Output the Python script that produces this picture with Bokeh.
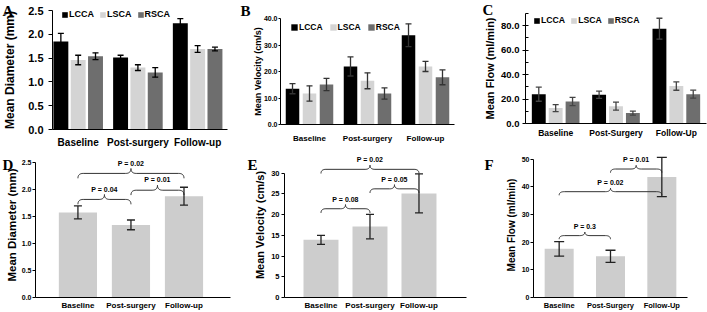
import numpy as np
from bokeh.plotting import figure
from bokeh.models import (ColumnDataSource, Range1d, FixedTicker, SingleIntervalTicker,
                          Whisker, TeeHead, Legend, LegendItem, Title, PrintfTickFormatter)
from bokeh.layouts import row, column
from bokeh.embed import file_html
from bokeh.resources import INLINE
from bokeh.core.properties import value

# ---------------- data ----------------
series = ["LCCA", "LSCA", "RSCA"]
groups_ab = ["Baseline", "Post-surgery", "Follow-up"]
groups_cf = ["Baseline", "Post-Surgery", "Follow-Up"]

# A: mean diameter (mm) per artery
diam_lcca = [1.85, 1.51, 2.23]
diam_lcca_err = [0.17, 0.05, 0.10]
diam_lsca = [1.46, 1.30, 1.69]
diam_lsca_err = [0.10, 0.06, 0.07]
diam_rsca = [1.54, 1.20, 1.69]
diam_rsca_err = [0.07, 0.10, 0.04]

# B: mean velocity (cm/s) per artery
vel_lcca = [13.5, 21.9, 33.7]
vel_lcca_err = [1.9, 3.6, 4.3]
vel_lsca = [11.7, 16.5, 21.9]
vel_lsca_err = [2.9, 3.0, 1.9]
vel_rsca = [15.1, 11.7, 17.8]
vel_rsca_err = [2.3, 2.1, 2.8]

# C: mean flow (ml/min) per artery
flow_lcca = [24.0, 23.5, 77.6]
flow_lcca_err = [5.8, 3.0, 8.5]
flow_lsca = [12.6, 14.2, 30.6]
flow_lsca_err = [2.9, 3.3, 3.4]
flow_rsca = [18.0, 8.5, 24.0]
flow_rsca_err = [3.3, 1.7, 3.3]

# D-F: pooled means
diam_all = [1.57, 1.34, 1.87]
diam_all_err = [0.12, 0.09, 0.165]
vel_all = [13.9, 17.1, 25.1]
vel_all_err = [1.1, 2.95, 4.7]
flow_all = [17.6, 14.9, 43.6]
flow_all_err = [2.65, 2.2, 7.1]

# comparisons (pairs of group indices) and p-values
pairs_d = [(0, 1), (1, 2), (0, 2)]
pvals_d = ["P = 0.04", "P = 0.01", "P = 0.02"]
pairs_e = [(0, 1), (1, 2), (0, 2)]
pvals_e = ["P = 0.08", "P = 0.05", "P = 0.02"]
pairs_f = [(0, 1), (0, 2), (1, 2)]
pvals_f = ["P = 0.3", "P = 0.02", "P = 0.01"]

# ---------------- style ----------------
SANS = "Liberation Sans"
SERIF = "Liberation Serif"
COLORS = ["#000000", "#d4d4d4", "#6e6e6e"]
POOL_COLOR = "#cdcdcd"


def make_fig(w, h, left, right, top, bottom, xr, yr):
    p = figure(width=w, height=h, x_range=Range1d(*xr), y_range=Range1d(*yr),
               output_backend="svg", toolbar_location=None,
               min_border_left=left, min_border_right=right,
               min_border_top=top, min_border_bottom=bottom)
    p.grid.visible = False
    p.outline_line_color = None
    p.border_fill_color = "white"
    p.background_fill_color = "white"
    return p


def style_axes(p, groups, ytick, yfmt, ylabel, ytick_size, ylab_size, xlab_size,
               ylab_standoff, ytick_standoff, ytick_out, xlab_standoff, bounds=None,
               minor=0, minor_in=0):
    xa = p.xaxis[0]
    xa.ticker = FixedTicker(ticks=list(range(len(groups))))
    xa.major_label_overrides = {i: g for i, g in enumerate(groups)}
    xa.major_tick_line_color = None
    xa.minor_tick_line_color = None
    xa.major_tick_out = 0
    xa.major_tick_in = 0
    xa.major_label_standoff = xlab_standoff
    xa.major_label_text_font = SANS
    xa.major_label_text_font_style = "bold"
    xa.major_label_text_font_size = xlab_size
    xa.major_label_text_color = "black"
    xa.axis_line_color = "black"
    xa.axis_line_width = 1

    ya = p.yaxis[0]
    ya.ticker = SingleIntervalTicker(interval=ytick, num_minor_ticks=minor)
    ya.formatter = PrintfTickFormatter(format=yfmt)
    ya.axis_label = ylabel
    ya.axis_label_text_font = SANS
    ya.axis_label_text_font_style = "bold"
    ya.axis_label_text_font_size = ylab_size
    ya.axis_label_text_color = "black"
    ya.axis_label_standoff = ylab_standoff
    ya.major_label_text_font = SANS
    ya.major_label_text_font_style = "bold"
    ya.major_label_text_font_size = ytick_size
    ya.major_label_text_color = "black"
    ya.major_label_standoff = ytick_standoff
    ya.major_tick_out = ytick_out
    ya.major_tick_in = 0
    ya.major_tick_line_color = "black"
    if minor:
        ya.minor_tick_out = 0
        ya.minor_tick_in = minor_in
        ya.minor_tick_line_color = "black"
    else:
        ya.minor_tick_line_color = None
    ya.axis_line_color = "black"
    if bounds is not None:
        ya.bounds = bounds


def grouped_bars(p, means, errs, offsets, bw, err_color, cap):
    rends = []
    for s, m, e, off, c in zip(series, means, errs, offsets, COLORS):
        src = ColumnDataSource(dict(
            x=[i + off for i in range(len(m))], top=m,
            upper=[a + b for a, b in zip(m, e)], lower=[a - b for a, b in zip(m, e)]))
        r = p.vbar(x="x", top="top", bottom=0, width=bw, source=src,
                   fill_color=c, line_color=None)
        w = Whisker(source=src, base="x", upper="upper", lower="lower",
                    line_color=err_color, line_width=1.3, level="overlay",
                    upper_head=TeeHead(size=cap, line_color=err_color, line_width=1.3),
                    lower_head=TeeHead(size=cap, line_color=err_color, line_width=1.3))
        p.add_layout(w)
        rends.append(r)
    return rends


def pooled_bars(p, m, e, bw, cap):
    src = ColumnDataSource(dict(
        x=list(range(len(m))), top=m,
        upper=[a + b for a, b in zip(m, e)], lower=[a - b for a, b in zip(m, e)]))
    p.vbar(x="x", top="top", bottom=0, width=bw, source=src,
           fill_color=POOL_COLOR, line_color=None)
    w = Whisker(source=src, base="x", upper="upper", lower="lower",
                line_color="#222222", line_width=1.3, level="overlay",
                upper_head=TeeHead(size=cap, line_color="#222222", line_width=1.3),
                lower_head=TeeHead(size=cap, line_color="#222222", line_width=1.3))
    p.add_layout(w)


def add_legend(p, rends, loc, size, glyph, spacing):
    items = [LegendItem(label=s, renderers=[r]) for s, r in zip(series, rends)]
    lg = Legend(items=items, orientation="horizontal", location=loc,
                background_fill_alpha=0, border_line_alpha=0,
                glyph_width=glyph, glyph_height=glyph, label_height=glyph,
                label_width=10, label_standoff=1, spacing=spacing,
                padding=0, margin=0,
                label_text_font=SANS, label_text_font_style="bold",
                label_text_font_size=size, label_text_color="black")
    p.add_layout(lg)


def quad(p0, p1, p2, n=10):
    t = np.linspace(0, 1, n)
    x = (1 - t) ** 2 * p0[0] + 2 * (1 - t) * t * p1[0] + t ** 2 * p2[0]
    y = (1 - t) ** 2 * p0[1] + 2 * (1 - t) * t * p1[1] + t ** 2 * p2[1]
    return list(x), list(y)


def brace(x0, x1, y, h, d):
    xm = 0.5 * (x0 + x1)
    xs, ys = [], []
    for seg in [((x0, y - h), (x0, y), (x0 + d, y)),
                ((xm - d, y), (xm, y), (xm, y + h)),
                ((xm, y + h), (xm, y), (xm + d, y)),
                ((x1 - d, y), (x1, y), (x1, y - h))]:
        a, b = quad(*seg)
        xs += a
        ys += b
    return xs, ys


def add_braces(p, pairs, pvals, levels, h, d, fsize):
    xs, ys, tx, ty = [], [], [], []
    for (i, j), lev in zip(pairs, levels):
        bx, by = brace(i, j, lev, h, d)
        xs.append(bx)
        ys.append(by)
        tx.append(0.5 * (i + j))
        ty.append(lev + h)
    p.multi_line(xs=xs, ys=ys, line_color="#333333", line_width=1)
    src = ColumnDataSource(dict(x=tx, y=ty, t=pvals))
    p.text(x="x", y="y", text="t", source=src, text_font=value(SANS),
           text_font_style="bold", text_font_size=fsize, text_color="black",
           text_align="center", text_baseline="bottom", y_offset=-2)


def add_letter(p, letter, px, baseline, left, top):
    # panel letter drawn as a left-aligned title pulled down beside the axis
    t = Title(text=letter, align="left", offset=px - left,
              standoff=-2 * (baseline + 3 - top),
              text_font=SERIF, text_font_style="bold", text_font_size="15px",
              text_color="black", vertical_align="bottom")
    p.title = t


TOP2, BOT2 = 2, 12       # bottom row: frame from y=152 to y=300

# ---------------- Panel A ----------------
pA = make_fig(235, 150, 52, 8, 10, 18, (-0.43, 2.5), (0, 2.5))
rA = grouped_bars(pA, [diam_lcca, diam_lsca, diam_rsca],
                  [diam_lcca_err, diam_lsca_err, diam_rsca_err],
                  [-0.29, 0.0, 0.29], 0.25, "black", 6)
style_axes(pA, groups_ab, 0.5, "%.1f", "Mean Diameter (mm)", "11px", "12px", "10px",
           ylab_standoff=8, ytick_standoff=5, ytick_out=4, xlab_standoff=7)
add_legend(pA, rA, (9, 110), "9px", 7, 5)
add_letter(pA, "A", 2, 15, 52, 10)

# ---------------- Panel B ----------------
pB = make_fig(232, 150, 45, 13, 18, 26, (-0.5, 2.5), (0, 40))
rB = grouped_bars(pB, [vel_lcca, vel_lsca, vel_rsca],
                  [vel_lcca_err, vel_lsca_err, vel_rsca_err],
                  [-0.293, 0.0, 0.293], 0.233, "#333333", 6)
style_axes(pB, groups_ab, 10, "%.1f", "Mean Velocity (cm/s)", "7px", "9px", "8px",
           ylab_standoff=-2, ytick_standoff=1, ytick_out=2, xlab_standoff=9,
           bounds=(0, 40))
add_legend(pB, rB, (10, 92), "8.5px", 8, 6)
add_letter(pB, "B", 5, 15, 45, 18)

# ---------------- Panel C ----------------
pC = make_fig(240, 150, 58, 1, 13, 27, (-0.5, 2.5), (0, 90))
rC = grouped_bars(pC, [flow_lcca, flow_lsca, flow_rsca],
                  [flow_lcca_err, flow_lsca_err, flow_rsca_err],
                  [-0.28, 0.0, 0.28], 0.23, "#444444", 6)
style_axes(pC, groups_cf, 20, "%.1f", "Mean Flow (ml/min)", "9.5px", "11px", "8.5px",
           ylab_standoff=2, ytick_standoff=3, ytick_out=3, xlab_standoff=4,
           minor=2, minor_in=3, bounds=(0, 90))
add_legend(pC, rC, (8, 98), "8.7px", 7, 5)
add_letter(pC, "C", 15, 14, 58, 13)

# ---------------- Panel D ----------------
pD = make_fig(235, 162, 35, 5, TOP2, BOT2, (-0.80, 2.877), (0, 2.676))
pooled_bars(pD, diam_all, diam_all_err, 0.72, 8)
add_braces(pD, pairs_d, pvals_d, [1.81, 1.98, 2.29], 0.09, 0.1, "7px")
style_axes(pD, groups_ab, 0.5, "%.1f", "Mean Diameter (mm)", "7px", "11.5px", "8px",
           ylab_standoff=1, ytick_standoff=1, ytick_out=3, xlab_standoff=3, bounds=(0, 2.5))
add_letter(pD, "D", 2, 19, 35, TOP2)

# ---------------- Panel E ----------------
pE = make_fig(232, 162, 49, 1, TOP2, BOT2, (-0.745, 2.97), (0, 34.96))
pooled_bars(pE, vel_all, vel_all_err, 0.714, 8)
add_braces(pE, pairs_e, pvals_e, [21.4, 26.2, 30.9], 1.0, 0.1, "7px")
style_axes(pE, groups_ab, 5, "%d", "Mean Velocity (cm/s)", "7.5px", "11px", "8px",
           ylab_standoff=2, ytick_standoff=2, ytick_out=3, xlab_standoff=3, bounds=(0, 30))
add_letter(pE, "E", 12, 19, 49, TOP2)

# ---------------- Panel F ----------------
pF = make_fig(240, 162, 66, 20, TOP2, BOT2, (-0.5, 2.5), (0, 52.48))
pooled_bars(pF, flow_all, flow_all_err, 0.565, 10)
add_braces(pF, pairs_f, pvals_f, [22.4, 38.3, 46.5], 1.3, 0.1, "7px")
style_axes(pF, groups_cf, 10, "%d", "Mean Flow (ml/min)", "7px", "10px", "7.5px",
           ylab_standoff=2, ytick_standoff=1, ytick_out=3, xlab_standoff=3, bounds=(0, 50))
add_letter(pF, "F", 17, 19, 66, TOP2)

# each top-row plot wrapped on its own so that its frame keeps its own borders
layout = column(row(column(pA), column(pB), column(pC)), row(pD, pE, pF))
open("out.html", "w").write(file_html(layout, INLINE))
